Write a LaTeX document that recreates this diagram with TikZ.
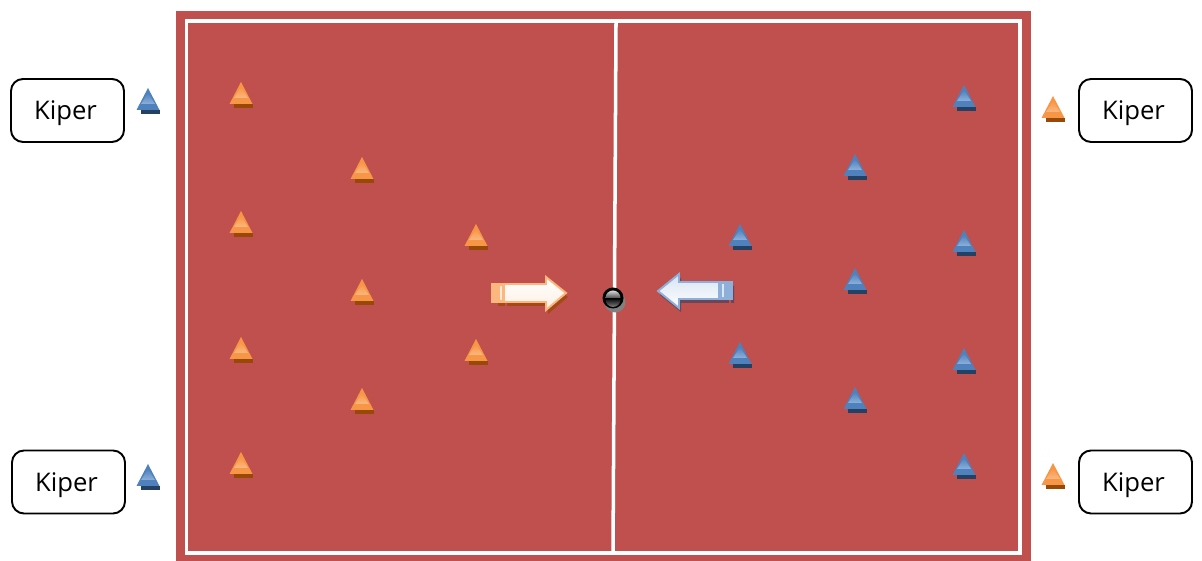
\documentclass[tikz,border=0pt]{standalone}
\usepackage{fontspec}
\setmainfont{Open Sans}
\definecolor{fieldred}{HTML}{C0504D}
\definecolor{coneorange}{HTML}{F79646}
\definecolor{conelight}{HTML}{FBB77E}
\definecolor{conedark}{HTML}{984807}
\definecolor{coneblue}{HTML}{4F81BD}
\definecolor{coneskye}{HTML}{8DB0DA}
\definecolor{conenavy}{HTML}{244062}
\tikzset{
    kiper/.style={draw,line width=0.55pt,rounded corners=0.12cm,minimum width=1.13cm,minimum height=0.63cm,inner sep=0pt,text depth=0pt,font=\fontsize{7.3}{9}\selectfont,execute at end node=\kern0.04cm},
    pics/cone/.style n args={3}{code={
        \fill[#3] (-0.07,-0.22) rectangle (0.12,-0.26);
        \fill[#1] (0,0) -- (0.115,-0.22) -- (-0.115,-0.22) -- cycle;
        \shade[top color=#1,bottom color=#2] (0,-0.05) -- (0.07,-0.16) -- (-0.07,-0.16) -- cycle;
    }},
}
\begin{document}
\begin{tikzpicture}
    \useasboundingbox (0,0) rectangle (12.02,5.61);
    % field
    \fill[fieldred] (1.76,0) rectangle (10.31,5.50);
    \draw[white,line width=1pt] (1.865,0.08) rectangle (10.20,5.40);
    \draw[white,line width=1pt] (6.16,5.38) -- (6.13,0.08);

    % orange side
    \pic at (2.41,4.79) {cone={coneorange}{conelight}{conedark}};
    \pic at (3.62,4.04) {cone={coneorange}{conelight}{conedark}};
    \pic at (2.41,3.50) {cone={coneorange}{conelight}{conedark}};
    \pic at (4.76,3.37) {cone={coneorange}{conelight}{conedark}};
    \pic at (3.62,2.82) {cone={coneorange}{conelight}{conedark}};
    \pic at (2.41,2.24) {cone={coneorange}{conelight}{conedark}};
    \pic at (4.76,2.22) {cone={coneorange}{conelight}{conedark}};
    \pic at (3.62,1.73) {cone={coneorange}{conelight}{conedark}};
    \pic at (2.41,1.09) {cone={coneorange}{conelight}{conedark}};

    % blue side
    \pic at (9.64,4.76) {cone={coneblue}{coneskye}{conenavy}};
    \pic at (8.55,4.07) {cone={coneblue}{coneskye}{conenavy}};
    \pic at (7.40,3.37) {cone={coneblue}{coneskye}{conenavy}};
    \pic at (9.64,3.31) {cone={coneblue}{coneskye}{conenavy}};
    \pic at (8.55,2.93) {cone={coneblue}{coneskye}{conenavy}};
    \pic at (7.40,2.19) {cone={coneblue}{coneskye}{conenavy}};
    \pic at (9.64,2.13) {cone={coneblue}{coneskye}{conenavy}};
    \pic at (8.55,1.74) {cone={coneblue}{coneskye}{conenavy}};
    \pic at (9.64,1.08) {cone={coneblue}{coneskye}{conenavy}};

    % keepers
    \node[kiper] (kiperNW) at (0.675,4.505) {Kiper};
    \node[kiper] (kiperSW) at (0.685,0.79) {Kiper};
    \node[kiper] (kiperNE) at (11.355,4.505) {Kiper};
    \node[kiper] (kiperSE) at (11.355,0.79) {Kiper};
    \pic at (1.48,4.73) {cone={coneblue}{coneskye}{conenavy}};
    \pic at (1.48,0.97) {cone={coneblue}{coneskye}{conenavy}};
    \pic at (10.53,4.65) {cone={coneorange}{conelight}{conedark}};
    \pic at (10.53,0.98) {cone={coneorange}{conelight}{conedark}};

    % right arrow
    \fill[conedark!75!fieldred,shift={(0.02,-0.04)}] (4.96,2.77) -- (5.46,2.77) -- (5.46,2.84) -- (5.66,2.68) -- (5.46,2.51) -- (5.46,2.59) -- (4.96,2.59) -- cycle;
    \fill[fieldred] (5.05,2.53) rectangle (5.07,2.60);
    \draw[conelight,line width=0.55pt,top color=white,bottom color=coneorange!15] (4.92,2.77) -- (5.46,2.77) -- (5.46,2.84) -- (5.66,2.68) -- (5.46,2.51) -- (5.46,2.59) -- (4.92,2.59) -- cycle;
    \fill[conelight] (4.92,2.59) rectangle (5.05,2.77);
    \fill[white!70!conelight] (5.00,2.61) rectangle (5.02,2.75);

    % left arrow
    \fill[conenavy!55!fieldred,shift={(0.02,-0.04)}] (7.32,2.79) -- (6.79,2.79) -- (6.79,2.87) -- (6.58,2.70) -- (6.79,2.53) -- (6.79,2.62) -- (7.32,2.62) -- cycle;
    \fill[fieldred] (7.29,2.56) rectangle (7.31,2.615);
    \draw[coneskye,line width=0.55pt,top color=coneskye!35,bottom color=white] (7.32,2.79) -- (6.79,2.79) -- (6.79,2.87) -- (6.58,2.70) -- (6.79,2.53) -- (6.79,2.62) -- (7.32,2.62) -- cycle;
    \fill[coneskye] (7.18,2.62) rectangle (7.32,2.79);
    \fill[white!70!coneskye] (7.22,2.64) rectangle (7.24,2.77);

    % ball
    \fill[black!50] (6.15,2.59) circle (0.105);
    \fill[black] (6.13,2.63) circle (0.105);
    \shade[top color=black!15,bottom color=black!70] (6.13,2.63) ++(0.075,0) arc (0:180:0.075) -- cycle;
    \shade[top color=black,bottom color=black!50] (6.13,2.63) ++(0.075,-0.015) arc (0:-180:0.075) -- cycle;
\end{tikzpicture}
\end{document}
